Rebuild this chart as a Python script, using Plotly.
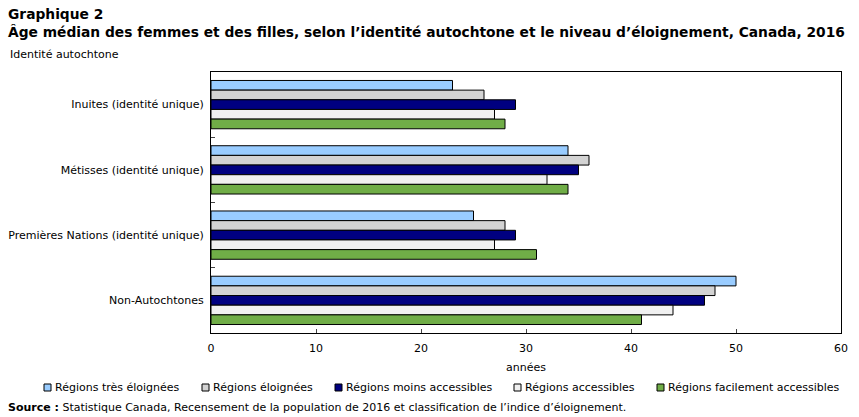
import plotly.graph_objects as go

categories = ["Inuites (identité unique)", "Métisses (identité unique)",
              "Premières Nations (identité unique)", "Non-Autochtones"]
series_names = ["Régions très éloignées", "Régions éloignées", "Régions moins accessibles",
                "Régions accessibles", "Régions facilement accessibles"]
tres_eloignees = [23, 34, 25, 50]
eloignees = [26, 36, 28, 48]
moins_accessibles = [29, 35, 29, 47]
accessibles = [27, 32, 27, 44]
facilement_accessibles = [28, 34, 31, 41]
series_values = [tres_eloignees, eloignees, moins_accessibles, accessibles, facilement_accessibles]
colors = ["#99CCFF", "#D3D3D3", "#000080", "#F0F0F0", "#70AD47"]
x_ticks = [0, 10, 20, 30, 40, 50, 60]

FONT = "DejaVu Sans, Verdana, sans-serif"
W, H = 859, 417
ML, MR, MT, MB = 211, 18, 72, 84
PW, PH = W - ML - MR, H - MT - MB


def px(x):
    return (x - ML) / PW


def py(y):
    return (H - MB - y) / PH


fig = go.Figure()
for name, vals, col in zip(series_names, series_values, colors):
    fig.add_trace(go.Bar(
        y=categories, x=vals, name=name, orientation="h",
        marker=dict(color=col, line=dict(color="black", width=1)),
        showlegend=False,
    ))

annotations = [
    dict(text="<b>Graphique 2</b>", x=px(6), y=py(14), font=dict(size=13.8)),
    dict(text="<b>Âge médian des femmes et des filles, selon l’identité autochtone et le niveau d’éloignement, Canada, 2016</b>",
         x=px(6), y=py(32), font=dict(size=13.8)),
    dict(text="Identité autochtone", x=px(8), y=py(54), font=dict(size=11)),
    dict(text="<b>Source :</b> Statistique Canada, Recensement de la population de 2016 et classification de l’indice d’éloignement.",
         x=px(6), y=py(407), font=dict(size=11)),
]
for a in annotations:
    a.update(xref="paper", yref="paper", showarrow=False, xanchor="left", yanchor="middle")

# legend (drawn manually so it fits on one row like the reference)
legend_x = [44, 202, 335, 514, 657]
shapes = []
for lx, name, col in zip(legend_x, series_names, colors):
    shapes.append(dict(type="rect", xref="paper", yref="paper",
                       x0=px(lx), x1=px(lx + 7), y0=py(391), y1=py(384),
                       fillcolor=col, line=dict(color="black", width=1)))
    annotations.append(dict(text=name, x=px(lx + 9), y=py(387), xref="paper", yref="paper",
                            showarrow=False, xanchor="left", yanchor="middle",
                            font=dict(size=11)))

fig.update_layout(
    width=W, height=H,
    barmode="group", bargap=0.26, bargroupgap=0,
    plot_bgcolor="white", paper_bgcolor="white",
    margin=dict(l=ML, r=MR, t=MT, b=MB, autoexpand=False),
    font=dict(family=FONT, size=11, color="black"),
    showlegend=False,
    xaxis=dict(range=[0, 60], tickvals=x_ticks, ticks="inside", ticklen=4,
               showgrid=False, zeroline=False, showline=True, linecolor="black",
               linewidth=1, mirror=True, tickfont=dict(size=11), ticklabelstandoff=5,
               title=dict(text="années", font=dict(size=11), standoff=9)),
    yaxis=dict(autorange="reversed", ticks="inside", ticklen=4, tickson="boundaries",
               showgrid=False, showline=True, linecolor="black", linewidth=1, mirror=True,
               tickfont=dict(size=11), ticklabelstandoff=4),
    annotations=annotations,
    shapes=shapes,
)

fig.write_html("out.html")
